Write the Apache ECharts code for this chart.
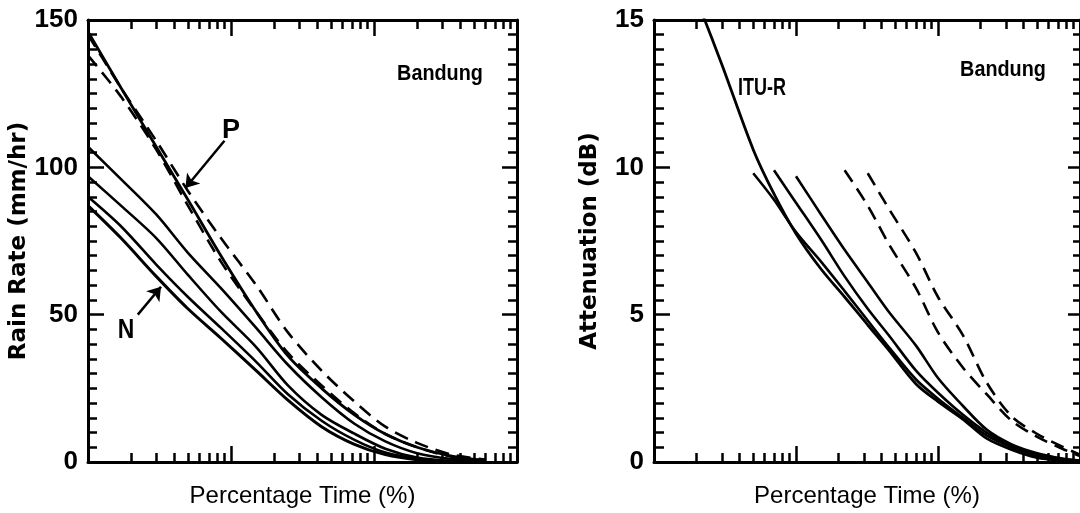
<!DOCTYPE html>
<html>
<head>
<meta charset="utf-8">
<script src="https://cdn.jsdelivr.net/npm/echarts@6.0.0/dist/echarts.min.js"></script>
<style>
    html, body { margin: 0; padding: 0; background: #fff; }
    #chart { width: 1080px; height: 513px; }
</style>
</head>
<body>
<div id="chart"></div>
<script>
// Rain rate (left) and attenuation (right) versus percentage of time, Bandung

// Left panel: percentage time samples and rain rate curves (mm/hr)
const pctLeft = [0.01, 0.017, 0.03, 0.05, 0.085, 0.15, 0.25, 0.43, 0.73, 1.2, 2, 3.5, 6];
const rainP = [146, 127, 107, 89, 70, 51, 36, 25, 16, 9.5, 5, 2, 0.5];
const rainDash1 = [138, 124, 106, 87, 68, 51, 37, 26, 16.5, 9.5, 5, 1.8, 0.5];
const rainDash2 = [145, 127, 109, 92, 76, 60, 44, 31, 20.5, 12, 6.5, 2.5, 0.8];
const rainD = [107, 96, 84, 71, 59, 45.5, 33, 22, 13, 7, 3, 1, 0.2];
const rainM = [97, 87, 76, 63.5, 51, 39, 26, 16, 9.6, 4.5, 1.5, 0.3, 0];
const rainN2 = [90, 80, 67, 56, 45.5, 34, 23, 14, 7.5, 3.2, 1.1, 0.3, 0];
const rainN = [87, 76, 63, 52, 42, 31, 21, 12, 6, 2.5, 0.8, 0.2, 0];

// Right panel: percentage time samples and attenuation curves (dB)
const pctRight = [0.02, 0.03, 0.05, 0.07, 0.1, 0.15, 0.22, 0.32, 0.45, 0.7, 1, 1.5, 2.2, 3.3, 5, 7.5, 10];
const attItu = [15.7, 13.5, 10.6, 9.1, 7.75, 6.55, 5.6, 4.65, 3.8, 2.65, 2.05, 1.45, 0.8, 0.42, 0.15, 0.05, 0.02];
const attS1 = [null, null, 9.8, 8.9, 7.8, 6.8, 5.8, 4.8, 3.9, 2.8, 2.15, 1.5, 0.9, 0.5, 0.22, 0.08, 0.03];
const attS2 = [null, null, null, 9.9, 8.8, 7.55, 6.3, 5.2, 4.3, 3.1, 2.35, 1.6, 1.0, 0.55, 0.27, 0.1, 0.04];
const attS3 = [null, null, null, null, 9.7, 8.4, 7.2, 6.1, 5.1, 3.95, 2.85, 1.9, 1.1, 0.6, 0.3, 0.12, 0.05];
const attDash1 = [null, null, null, null, null, null, 9.9, 8.7, 7.4, 5.9, 4.4, 3.2, 2.3, 1.4, 0.85, 0.45, 0.2];
const attDash2 = [null, null, null, null, null, null, null, 9.8, 8.6, 7.1, 5.6, 4.3, 2.7, 1.55, 0.95, 0.52, 0.25];

// Tick values of the y axes
const rainTicks = { min: 0, max: 150, interval: 50 };
const attTicks = { min: 0, max: 15, interval: 5 };

const BLACK = '#000';
const labelFont = 'Liberation Sans, Arial, sans-serif';

function xAxisFor(gridIndex, position, withName) {
    return {
        type: 'log', logBase: 10, min: 0.01, max: 10,
        gridIndex: gridIndex, position: position,
        name: withName ? 'Percentage Time (%)' : '',
        nameLocation: 'middle', nameGap: 22,
        nameTextStyle: { fontFamily: labelFont, fontSize: 24, color: BLACK },
        axisLine: { show: true, onZero: false, lineStyle: { color: BLACK, width: 3 } },
        axisTick: { show: true, inside: true, length: 16, lineStyle: { color: BLACK, width: 2.5 } },
        minorTick: { show: true, splitNumber: 9, length: 9, lineStyle: { color: BLACK, width: 2.5 } },
        axisLabel: { show: false },
        splitLine: { show: false },
        minorSplitLine: { show: false }
    };
}

function yAxisFor(gridIndex, position, ticks, name, tickLen, minorLen) {
    return {
        type: 'value', gridIndex: gridIndex, position: position,
        min: ticks.min, max: ticks.max, interval: ticks.interval,
        name: name || '', nameLocation: 'middle', nameGap: 52,
        nameTextStyle: { fontFamily: 'DejaVu Sans, sans-serif', fontWeight: 'bold', fontSize: 23, color: BLACK },
        axisLine: { show: true, onZero: false, lineStyle: { color: BLACK, width: 3 } },
        axisTick: { show: true, inside: true, length: tickLen, lineStyle: { color: BLACK, width: 2.5 } },
        minorTick: { show: true, splitNumber: 10, length: minorLen, lineStyle: { color: BLACK, width: 2.5 } },
        axisLabel: {
            show: !!name, margin: 10, color: BLACK,
            fontFamily: labelFont, fontWeight: 'bold', fontSize: 26
        },
        splitLine: { show: false },
        minorSplitLine: { show: false }
    };
}

function curve(xs, ys, panel, dashed, width) {
    return {
        type: 'line',
        xAxisIndex: panel * 2,
        yAxisIndex: panel * 2,
        data: xs.map((x, i) => [x, ys[i]]).filter(p => p[1] !== null),
        smooth: 0.3,
        symbol: 'none',
        silent: true,
        lineStyle: { color: BLACK, width: width || 2.6, type: dashed ? [14, 8] : 'solid' }
    };
}

function arrow(from, to) {
    return {
        silent: true,
        symbol: ['none', 'arrow'],
        symbolSize: 13,
        label: { show: false },
        lineStyle: { color: BLACK, width: 2.5, type: 'solid' },
        data: [[{ coord: from }, { coord: to }]]
    };
}

function text(str, x, y, size, sx) {
    return {
        type: 'text', x: x, y: y, scaleX: sx || 1,
        style: {
            text: str, fill: BLACK, fontFamily: labelFont, fontWeight: 'bold',
            fontSize: size, align: 'center', verticalAlign: 'middle'
        }
    };
}

const chart = echarts.init(document.getElementById('chart'), null, { renderer: 'canvas' });

const pSeries = curve(pctLeft, rainP, 0, false, 2.8);
pSeries.markLine = arrow([0.09, 109], [0.048, 93]);
const nSeries = curve(pctLeft, rainN, 0, false, 3);
nSeries.markLine = arrow([0.0223, 50], [0.0324, 59.5]);

const option = {
    animation: false,
    backgroundColor: '#fff',
    grid: [
        { left: 88, top: 20, width: 429, height: 445 },
        { left: 654, top: 20, width: 429, height: 445 }
    ],
    xAxis: [
        xAxisFor(0, 'bottom', true),
        xAxisFor(0, 'top', false),
        xAxisFor(1, 'bottom', true),
        xAxisFor(1, 'top', false)
    ],
    yAxis: [
        yAxisFor(0, 'left', rainTicks, 'Rain Rate (mm/hr)', 16, 9),
        yAxisFor(0, 'right', rainTicks, '', 15, 9),
        yAxisFor(1, 'left', attTicks, 'Attenuation (dB)', 16, 10),
        yAxisFor(1, 'right', attTicks, '', 12, 7)
    ],
    series: [
        pSeries,
        curve(pctLeft, rainDash1, 0, true),
        curve(pctLeft, rainDash2, 0, true),
        curve(pctLeft, rainD, 0, false),
        curve(pctLeft, rainM, 0, false),
        curve(pctLeft, rainN2, 0, false),
        nSeries,
        curve(pctRight, attItu, 1, false, 2.8),
        curve(pctRight, attS1, 1, false),
        curve(pctRight, attS2, 1, false),
        curve(pctRight, attS3, 1, false),
        curve(pctRight, attDash1, 1, true),
        curve(pctRight, attDash2, 1, true)
    ],
    graphic: [
        text('Bandung', 440, 74, 22, 0.9),
        text('Bandung', 1003, 70, 22, 0.9),
        text('ITU-R', 762, 88, 24, 0.75),
        text('P', 231, 131, 27, 1),
        text('N', 126, 331, 27, 0.85)
    ]
};

chart.setOption(option);
</script>
</body>
</html>
